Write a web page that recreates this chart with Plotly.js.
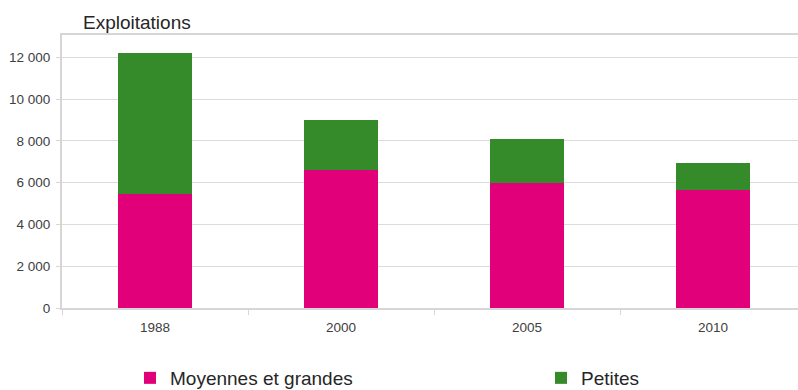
<!DOCTYPE html>
<html>
<head>
<meta charset="utf-8">
<script src="https://cdn.plot.ly/plotly-3.0.1.min.js"></script>
<style>
  html, body { margin: 0; padding: 0; overflow: hidden; background: #fff; }
  #chart { width: 808px; height: 390px; }
</style>
</head>
<body>
<div id="chart"></div>
<script>
// Nombre d'exploitations par taille
const annees = ['1988', '2000', '2005', '2010'];
const moyennesGrandes = [5460, 6610, 5980, 5650];
const petites = [6760, 2390, 2100, 1300];

const traces = [
  {
    type: 'bar',
    name: 'Moyennes et grandes',
    x: annees,
    y: moyennesGrandes,
    marker: { color: '#e2007a' },
    width: 0.4,
    legend: 'legend',
    hoverinfo: 'y'
  },
  {
    type: 'bar',
    name: 'Petites',
    x: annees,
    y: petites,
    marker: { color: '#358a29' },
    width: 0.4,
    legend: 'legend2',
    hoverinfo: 'y'
  }
];

const legendCommun = {
  orientation: 'h',
  xref: 'container',
  xanchor: 'left',
  yref: 'container',
  y: 12 / 390,
  yanchor: 'middle',
  font: { size: 19, color: '#262626' },
  bgcolor: 'rgba(0,0,0,0)',
  itemclick: false,
  itemdoubleclick: false
};

const layout = {
  width: 808,
  height: 390,
  margin: { l: 62, r: 2, t: 35, b: 82 },
  barmode: 'stack',
  separators: ', ',
  paper_bgcolor: '#ffffff',
  plot_bgcolor: '#ffffff',
  font: { family: 'Liberation Sans, Arial, sans-serif', size: 13.5, color: '#404040' },
  title: {
    text: 'Exploitations',
    font: { size: 19, color: '#262626' },
    x: 83 / 808,
    xanchor: 'left',
    xref: 'container',
    y: 1 - 22 / 390,
    yanchor: 'middle',
    yref: 'container'
  },
  xaxis: {
    type: 'category',
    showline: true,
    linecolor: '#d6d6d6',
    linewidth: 2,
    mirror: true,
    ticks: 'outside',
    tickson: 'boundaries',
    ticklen: 5,
    tickcolor: '#d6d6d6',
    ticklabelstandoff: 6,
    showgrid: false,
    tickfont: { size: 13.5, color: '#404040' },
    fixedrange: true
  },
  yaxis: {
    range: [0, 13070],
    tickvals: [0, 2000, 4000, 6000, 8000, 10000, 12000],
    tickformat: ',d',
    showline: true,
    linecolor: '#d6d6d6',
    linewidth: 2,
    ticks: 'outside',
    ticklen: 4,
    tickcolor: '#d6d6d6',
    ticklabelstandoff: 3,
    showgrid: true,
    gridcolor: '#dcdcdc',
    gridwidth: 1,
    zeroline: false,
    tickfont: { size: 13.5, color: '#404040' },
    fixedrange: true
  },
  showlegend: true,
  legend: Object.assign({}, legendCommun, { x: 130 / 808 }),
  legend2: Object.assign({}, legendCommun, { x: 541 / 808 })
};

Plotly.newPlot('chart', traces, layout, { displayModeBar: false, staticPlot: true });
</script>
</body>
</html>
